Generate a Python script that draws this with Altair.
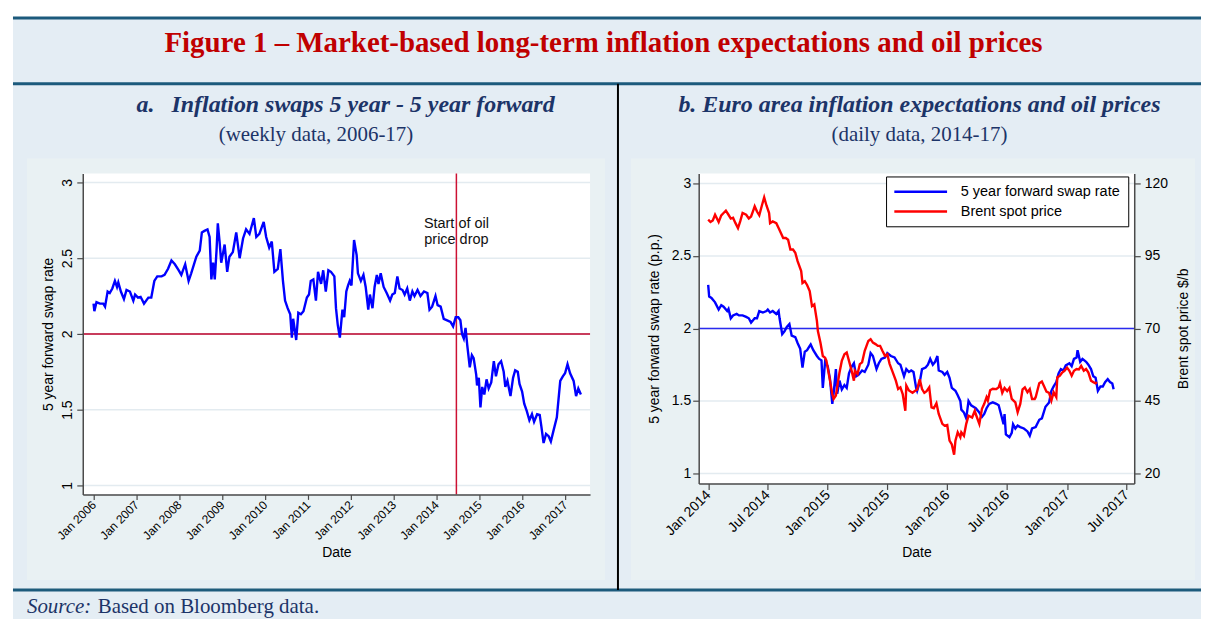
import altair as alt
import pandas as pd
import datetime as dt

# ---------------- data ----------------
series_names = ["5 year forward swap rate", "Brent spot price"]

# panel a: weekly 5y5y inflation swap, [decimal year, rate]
swap_weekly = [
    [2006.00, 2.20], [2006.02, 2.15], [2006.07, 2.21], [2006.15, 2.20], [2006.23, 2.20], [2006.27, 2.18],
    [2006.33, 2.28], [2006.38, 2.27], [2006.44, 2.30], [2006.50, 2.35], [2006.55, 2.31], [2006.58, 2.34],
    [2006.64, 2.28], [2006.71, 2.23], [2006.77, 2.29], [2006.85, 2.28], [2006.93, 2.22], [2006.97, 2.26],
    [2007.04, 2.24], [2007.10, 2.245], [2007.18, 2.20], [2007.28, 2.24], [2007.35, 2.24], [2007.42, 2.35],
    [2007.49, 2.38], [2007.59, 2.38], [2007.66, 2.39], [2007.74, 2.43], [2007.82, 2.485], [2007.90, 2.46],
    [2007.99, 2.42], [2008.05, 2.39], [2008.09, 2.42], [2008.14, 2.46], [2008.22, 2.35], [2008.28, 2.40],
    [2008.40, 2.51], [2008.48, 2.55], [2008.53, 2.67], [2008.59, 2.68], [2008.66, 2.69], [2008.71, 2.64],
    [2008.75, 2.36], [2008.79, 2.47], [2008.83, 2.36], [2008.87, 2.55], [2008.90, 2.73], [2008.94, 2.61],
    [2008.98, 2.47], [2009.06, 2.59], [2009.12, 2.41], [2009.17, 2.51], [2009.25, 2.54], [2009.33, 2.67],
    [2009.41, 2.50], [2009.49, 2.63], [2009.56, 2.69], [2009.64, 2.66], [2009.74, 2.765], [2009.80, 2.64],
    [2009.87, 2.66], [2009.97, 2.74], [2010.03, 2.64], [2010.10, 2.57], [2010.16, 2.61], [2010.22, 2.41],
    [2010.30, 2.43], [2010.36, 2.56], [2010.42, 2.35], [2010.47, 2.22], [2010.53, 2.17], [2010.59, 2.13],
    [2010.63, 1.976], [2010.66, 2.10], [2010.73, 1.96], [2010.78, 2.14], [2010.84, 2.13], [2010.90, 2.15],
    [2010.98, 2.24], [2011.03, 2.26], [2011.07, 2.35], [2011.13, 2.36], [2011.19, 2.22], [2011.24, 2.41],
    [2011.31, 2.33], [2011.36, 2.42], [2011.42, 2.28], [2011.48, 2.42], [2011.54, 2.41], [2011.62, 2.38],
    [2011.66, 2.17], [2011.70, 2.06], [2011.75, 1.976], [2011.81, 2.16], [2011.85, 2.11], [2011.90, 2.28],
    [2011.94, 2.32], [2011.98, 2.35], [2012.02, 2.32], [2012.08, 2.62], [2012.14, 2.52], [2012.17, 2.40],
    [2012.24, 2.35], [2012.30, 2.39], [2012.35, 2.31], [2012.41, 2.16], [2012.45, 2.26], [2012.51, 2.17],
    [2012.56, 2.31], [2012.61, 2.39], [2012.65, 2.33], [2012.70, 2.40], [2012.77, 2.31], [2012.84, 2.27],
    [2012.92, 2.22], [2012.97, 2.26], [2013.03, 2.27], [2013.09, 2.38], [2013.14, 2.30], [2013.21, 2.29],
    [2013.26, 2.26], [2013.32, 2.30], [2013.38, 2.22], [2013.44, 2.28], [2013.49, 2.25], [2013.56, 2.29],
    [2013.63, 2.25], [2013.71, 2.28], [2013.79, 2.27], [2013.84, 2.16], [2013.90, 2.18], [2013.98, 2.25],
    [2014.03, 2.19], [2014.10, 2.18], [2014.17, 2.10], [2014.25, 2.09], [2014.33, 2.08], [2014.39, 2.05],
    [2014.45, 2.11], [2014.51, 2.11], [2014.56, 2.09], [2014.60, 2.00], [2014.64, 1.97], [2014.68, 2.04],
    [2014.72, 1.93], [2014.78, 1.78], [2014.83, 1.86], [2014.87, 1.84], [2014.93, 1.73], [2014.95, 1.66],
    [2014.99, 1.71], [2015.03, 1.515], [2015.07, 1.65], [2015.12, 1.60], [2015.17, 1.70], [2015.22, 1.64],
    [2015.28, 1.68], [2015.34, 1.82], [2015.39, 1.72], [2015.45, 1.80], [2015.51, 1.82], [2015.57, 1.75],
    [2015.61, 1.65], [2015.66, 1.69], [2015.73, 1.59], [2015.79, 1.71], [2015.84, 1.76], [2015.90, 1.75],
    [2015.94, 1.67], [2016.00, 1.62], [2016.05, 1.54], [2016.11, 1.49], [2016.17, 1.43], [2016.23, 1.47],
    [2016.28, 1.42], [2016.35, 1.47], [2016.41, 1.465], [2016.45, 1.39], [2016.50, 1.28], [2016.56, 1.34],
    [2016.62, 1.325], [2016.67, 1.29], [2016.73, 1.36], [2016.81, 1.45], [2016.89, 1.69], [2016.95, 1.72],
    [2017.00, 1.74], [2017.06, 1.80], [2017.12, 1.74], [2017.20, 1.69], [2017.26, 1.59], [2017.31, 1.64],
    [2017.37, 1.60],
]

# panel b: daily 5y5y swap (left axis), [decimal year, rate]
swap_daily = [
    [2014.00, 2.30], [2014.01, 2.22], [2014.03, 2.21], [2014.06, 2.18], [2014.09, 2.13], [2014.11, 2.16],
    [2014.13, 2.15], [2014.16, 2.12], [2014.17, 2.135], [2014.19, 2.07], [2014.21, 2.09], [2014.24, 2.10],
    [2014.26, 2.09], [2014.29, 2.09], [2014.32, 2.08], [2014.34, 2.07], [2014.36, 2.04], [2014.39, 2.07],
    [2014.41, 2.07], [2014.43, 2.12], [2014.46, 2.11], [2014.49, 2.12], [2014.50, 2.13], [2014.52, 2.11],
    [2014.54, 2.12], [2014.57, 2.10], [2014.59, 2.12], [2014.60, 2.07], [2014.62, 1.96], [2014.64, 1.98],
    [2014.66, 2.01], [2014.68, 2.03], [2014.70, 1.95], [2014.73, 1.94], [2014.75, 1.90], [2014.77, 1.86],
    [2014.79, 1.73], [2014.81, 1.84], [2014.83, 1.85], [2014.85, 1.88], [2014.86, 1.89], [2014.88, 1.85],
    [2014.91, 1.81], [2014.93, 1.79], [2014.95, 1.78], [2014.96, 1.59], [2014.98, 1.77], [2015.00, 1.74],
    [2015.02, 1.65], [2015.04, 1.48], [2015.05, 1.55], [2015.07, 1.72], [2015.08, 1.55], [2015.10, 1.64],
    [2015.12, 1.58], [2015.14, 1.61], [2015.16, 1.59], [2015.18, 1.69], [2015.20, 1.735], [2015.22, 1.76],
    [2015.24, 1.67], [2015.26, 1.68], [2015.29, 1.71], [2015.31, 1.70], [2015.34, 1.75], [2015.36, 1.83],
    [2015.38, 1.81], [2015.41, 1.72], [2015.43, 1.76], [2015.45, 1.79], [2015.48, 1.80], [2015.50, 1.83],
    [2015.53, 1.81], [2015.56, 1.80], [2015.59, 1.76], [2015.61, 1.75], [2015.64, 1.67], [2015.66, 1.72],
    [2015.68, 1.70], [2015.70, 1.71], [2015.72, 1.70], [2015.74, 1.59], [2015.75, 1.57], [2015.77, 1.63],
    [2015.79, 1.72], [2015.82, 1.73], [2015.84, 1.75], [2015.86, 1.79], [2015.88, 1.75], [2015.90, 1.77],
    [2015.92, 1.81], [2015.93, 1.71], [2015.96, 1.70], [2015.98, 1.68], [2016.00, 1.70], [2016.02, 1.66],
    [2016.04, 1.59], [2016.07, 1.57], [2016.09, 1.54], [2016.11, 1.50], [2016.12, 1.44], [2016.14, 1.42],
    [2016.16, 1.38], [2016.18, 1.50], [2016.20, 1.47], [2016.22, 1.46], [2016.24, 1.45], [2016.27, 1.42],
    [2016.29, 1.39], [2016.31, 1.41], [2016.33, 1.45], [2016.35, 1.48], [2016.38, 1.49], [2016.41, 1.48],
    [2016.43, 1.47], [2016.45, 1.41], [2016.47, 1.34], [2016.48, 1.41], [2016.49, 1.27], [2016.52, 1.25],
    [2016.54, 1.28], [2016.55, 1.34], [2016.57, 1.31], [2016.59, 1.33], [2016.61, 1.32], [2016.64, 1.31],
    [2016.67, 1.29], [2016.69, 1.26], [2016.71, 1.31], [2016.74, 1.32], [2016.77, 1.37], [2016.79, 1.38],
    [2016.82, 1.46], [2016.85, 1.49], [2016.87, 1.57], [2016.89, 1.60], [2016.91, 1.63], [2016.93, 1.69],
    [2016.95, 1.72], [2016.97, 1.71], [2016.99, 1.745], [2017.02, 1.76], [2017.04, 1.74], [2017.06, 1.79],
    [2017.08, 1.80], [2017.09, 1.85], [2017.11, 1.77], [2017.13, 1.79], [2017.16, 1.77], [2017.18, 1.75],
    [2017.20, 1.72], [2017.22, 1.67], [2017.24, 1.66], [2017.26, 1.57], [2017.28, 1.60], [2017.30, 1.60],
    [2017.32, 1.63], [2017.34, 1.65], [2017.36, 1.63], [2017.38, 1.62], [2017.39, 1.58],
]

# panel b: Brent spot price (right axis), [decimal year, $/b]
brent_daily = [
    [2014.00, 107.5], [2014.02, 106.7], [2014.04, 107.2], [2014.06, 109.2], [2014.09, 106.7], [2014.11, 109.0],
    [2014.13, 109.8], [2014.15, 110.6], [2014.17, 109.2], [2014.19, 107.9], [2014.21, 108.2], [2014.23, 106.4],
    [2014.25, 104.6], [2014.27, 107.0], [2014.29, 109.8], [2014.32, 109.2], [2014.34, 107.9], [2014.36, 108.6],
    [2014.38, 110.8], [2014.39, 112.1], [2014.41, 110.3], [2014.43, 109.0], [2014.45, 112.4], [2014.47, 115.2],
    [2014.49, 112.4], [2014.51, 109.8], [2014.52, 106.3], [2014.54, 106.9], [2014.57, 106.3], [2014.59, 104.6],
    [2014.61, 102.9], [2014.63, 101.2], [2014.65, 101.2], [2014.67, 100.6], [2014.69, 97.2], [2014.71, 97.2],
    [2014.73, 96.1], [2014.75, 93.2], [2014.78, 89.8], [2014.79, 85.7], [2014.81, 86.3], [2014.83, 85.0],
    [2014.85, 82.9], [2014.87, 77.7], [2014.89, 78.3], [2014.91, 72.6], [2014.92, 69.1], [2014.94, 65.0],
    [2014.96, 60.5], [2014.98, 59.9], [2014.99, 58.9], [2015.02, 52.0], [2015.04, 47.4], [2015.05, 45.7],
    [2015.07, 46.9], [2015.09, 52.0], [2015.10, 54.8], [2015.12, 58.8], [2015.14, 61.1], [2015.16, 61.7],
    [2015.18, 58.8], [2015.20, 55.4], [2015.22, 52.0], [2015.23, 55.4], [2015.25, 54.3], [2015.27, 57.7],
    [2015.29, 58.3], [2015.31, 62.3], [2015.34, 65.7], [2015.36, 66.3], [2015.38, 65.1], [2015.40, 64.6],
    [2015.42, 64.0], [2015.44, 64.0], [2015.46, 62.3], [2015.48, 60.5], [2015.50, 61.1], [2015.52, 57.8],
    [2015.54, 55.4], [2015.57, 52.0], [2015.59, 49.1], [2015.61, 49.7], [2015.63, 47.4], [2015.65, 41.6],
    [2015.66, 50.3], [2015.68, 48.6], [2015.71, 47.8], [2015.73, 48.4], [2015.75, 48.9], [2015.77, 52.5],
    [2015.79, 49.1], [2015.81, 47.8], [2015.83, 48.4], [2015.85, 49.7], [2015.87, 42.8], [2015.89, 42.5],
    [2015.91, 44.2], [2015.93, 40.5], [2015.96, 37.1], [2015.98, 36.5], [2016.00, 36.7], [2016.02, 31.3],
    [2016.04, 30.0], [2016.06, 26.5], [2016.07, 31.3], [2016.09, 34.2], [2016.11, 32.5], [2016.12, 34.2],
    [2016.14, 33.0], [2016.16, 37.1], [2016.18, 39.9], [2016.21, 39.3], [2016.23, 41.6], [2016.24, 40.5],
    [2016.27, 37.1], [2016.29, 42.3], [2016.31, 44.0], [2016.33, 46.3], [2016.34, 45.1], [2016.36, 48.7],
    [2016.38, 49.2], [2016.41, 49.1], [2016.43, 49.7], [2016.44, 51.1], [2016.46, 47.8], [2016.48, 49.5],
    [2016.50, 48.4], [2016.52, 49.5], [2016.54, 45.7], [2016.57, 44.5], [2016.59, 41.1], [2016.61, 44.0],
    [2016.63, 49.0], [2016.65, 49.7], [2016.67, 48.0], [2016.69, 49.1], [2016.71, 45.7], [2016.73, 45.7],
    [2016.74, 46.3], [2016.77, 51.1], [2016.79, 51.7], [2016.81, 50.0], [2016.83, 48.2], [2016.85, 47.8],
    [2016.87, 45.1], [2016.89, 48.0], [2016.91, 46.3], [2016.92, 53.1], [2016.94, 53.7], [2016.96, 54.8],
    [2016.98, 55.4], [2017.00, 56.5], [2017.02, 55.4], [2017.04, 53.7], [2017.06, 55.4], [2017.08, 56.0],
    [2017.10, 55.9], [2017.12, 57.1], [2017.14, 55.4], [2017.16, 56.0], [2017.18, 54.8], [2017.20, 52.0],
    [2017.22, 51.5], [2017.24, 51.1], [2017.25, 51.5],
]

left_axis_ticks = [1, 1.5, 2, 2.5, 3]
brent_axis_ticks = [20, 45, 70, 95, 120]
panel_a_years = list(range(2006, 2018))
panel_b_ticks = [(2014, 1), (2014, 7), (2015, 1), (2015, 7), (2016, 1), (2016, 7), (2017, 1), (2017, 7)]
reference_level = [2.0]
oil_drop_date = ["2014-06-20"]
oil_drop_label_level = [2.70]

# ---------------- helpers ----------------
SANS = "Liberation Sans"
SERIF = "Liberation Serif"
NAVY = "#1c3468"
FRAME = "#1c5a7c"
BG = "#e4edf4"
REGION = "#e9f1f3"
AXC = "#4a4a4a"


def to_date(y):
    yr = int(y)
    start = dt.datetime(yr, 1, 1)
    nxt = dt.datetime(yr + 1, 1, 1)
    return (start + (nxt - start) * (y - yr)).strftime("%Y-%m-%d")


def frame(pairs, name):
    return pd.DataFrame({
        "date": [to_date(p[0]) for p in pairs],
        "value": [p[1] for p in pairs],
        "series": [name] * len(pairs),
    })


one = pd.DataFrame({"k": [0]})


def box(x, x2, y, y2, color):
    return alt.Chart(one).mark_rect(color=color).encode(
        x=alt.value(x), x2=alt.value(x2), y=alt.value(y), y2=alt.value(y2))


def hline(x, x2, y, color, w):
    return alt.Chart(one).mark_rule(color=color, strokeWidth=w).encode(
        x=alt.value(x), x2=alt.value(x2), y=alt.value(y))


def vline(x, y, y2, color, w):
    return alt.Chart(one).mark_rule(color=color, strokeWidth=w).encode(
        x=alt.value(x), y=alt.value(y), y2=alt.value(y2))


def label(text, x, y, size, color, font=SERIF, weight="normal", style="normal", align="center"):
    return alt.Chart(one).mark_text(
        text=text, font=font, fontSize=size, fontWeight=weight, fontStyle=style,
        color=color, align=align, baseline="alphabetic").encode(x=alt.value(x), y=alt.value(y))


common_axis = dict(zindex=1, grid=False, labelFont=SANS, titleFont=SANS,
                   labelColor="#000000", titleColor="#000000", titleFontWeight="normal",
                   domainColor=AXC, domainWidth=1.5, tickColor=AXC, tickWidth=1.2,
                   labelOverlap=False, labelFlush=False)

# ---------------- panel a ----------------
LW, LH = 509, 322
xL = alt.Scale(domain=[alt.DateTime(year=2005, month=10, date=1),
                       alt.DateTime(year=2017, month=8, date=2)], nice=False)
yL = alt.Scale(domain=[0.9408, 3.0592], nice=False, zero=False)

left_df = frame(swap_weekly, series_names[0])

x_axis_a = alt.Axis(
    values=[alt.DateTime(year=y, month=1, date=1) for y in panel_a_years],
    format="%b %Y", labelAngle=315, labelAlign="right", labelBaseline="middle",
    labelFontSize=12, tickSize=5, labelPadding=3,
    title="Date", titleFontSize=14, titleX=LW / 2, titleY=58,
    titleAlign="center", titleBaseline="middle", **common_axis)
y_axis_a = alt.Axis(
    values=left_axis_ticks, format="~g", labelAngle=270, labelAlign="center",
    labelBaseline="alphabetic", labelFontSize=14, tickSize=6, labelPadding=5,
    title="5 year forward swap rate", titleFontSize=14, titleAngle=270,
    titleX=-34, titleY=LH / 2, titleAlign="center", titleBaseline="middle", **common_axis)

oil_df = pd.DataFrame({"date": oil_drop_date, "level": oil_drop_label_level})

left_layers = [
    box(-70, 1122, -157, 447, BG),
    hline(-70, 1122, -156, FRAME, 3),
    hline(-70, 1122, -90, FRAME, 3),
    hline(-70, 1122, 418, FRAME, 3),
    vline(537, -90, 418, "#000000", 2),
    box(-56, 524, -15, 408, REGION),
    label("Figure 1 \u2013 Market-based long-term inflation expectations and oil prices",
          522.5, -122, 29, "#c00000", weight="bold"),
    label("a.", 54, -62, 24, NAVY, weight="bold", style="italic", align="left"),
    label("Inflation swaps 5 year - 5 year forward", 89, -62, 24, NAVY,
          weight="bold", style="italic", align="left"),
    label("(weekly data, 2006-17)", 234, -33, 21, NAVY),
    label("Source:", -56, 441, 21, NAVY, style="italic", align="left"),
    label("Based on Bloomberg data.", 15, 441, 21, NAVY, align="left"),
    box(0, LW, 0, LH, "#ffffff"),
    alt.Chart(pd.DataFrame({"g": left_axis_ticks})).mark_rule(color="#e3ebf0", strokeWidth=1.5)
       .encode(y=alt.Y("g:Q", scale=yL, axis=y_axis_a)),
    alt.Chart(pd.DataFrame({"level": reference_level})).mark_rule(color="#c83c5c", strokeWidth=2)
       .encode(y=alt.Y("level:Q", scale=yL, axis=y_axis_a)),
    alt.Chart(oil_df).mark_rule(color="#cc1133", strokeWidth=1.5)
       .encode(x=alt.X("date:T", scale=xL, axis=x_axis_a)),
    alt.Chart(oil_df).mark_text(text=["Start of oil", "price drop"], lineHeight=16, font=SANS,
                                fontSize=14.5, color="#111111", align="center", baseline="alphabetic")
       .encode(x=alt.X("date:T", scale=xL, axis=x_axis_a), y=alt.Y("level:Q", scale=yL, axis=y_axis_a)),
    alt.Chart(left_df).mark_line(color="#0000ff", strokeWidth=2.4)
       .encode(x=alt.X("date:T", scale=xL, axis=x_axis_a),
               y=alt.Y("value:Q", scale=yL, axis=y_axis_a)),
]
left = alt.layer(*left_layers).properties(width=LW, height=LH)

# ---------------- panel b ----------------
RW, RH = 437, 311
xR = alt.Scale(domain=[alt.DateTime(year=2013, month=12, date=3),
                       alt.DateTime(year=2017, month=7, date=25)], nice=False)
yR = alt.Scale(domain=[0.9313, 3.0687], nice=False, zero=False)
yB = alt.Scale(domain=[16.565, 123.435], nice=False, zero=False)

swap_df = frame(swap_daily, series_names[0])
brent_df = frame(brent_daily, series_names[1])

legend = alt.Legend(
    title=None, orient="none", legendX=188, legendY=3, direction="vertical",
    symbolType="M-5,0H5", symbolSize=112, symbolStrokeWidth=2.5, symbolOffset=19.5,
    labelOffset=33, labelFont=SANS, labelFontSize=14.5, labelColor="#000000", labelLimit=400,
    padding=8, rowPadding=5, strokeColor="#000000", fillColor="#ffffff", cornerRadius=0)
color = alt.Color("series:N", scale=alt.Scale(domain=series_names, range=["#0000ff", "#ff0000"]),
                  legend=legend)

x_axis_b = alt.Axis(
    values=[alt.DateTime(year=y, month=m, date=1) for (y, m) in panel_b_ticks],
    format="%b %Y", labelAngle=315, labelAlign="right", labelBaseline="middle",
    labelFontSize=14, tickSize=6, labelPadding=3,
    title="Date", titleFontSize=14, titleX=RW / 2, titleY=69,
    titleAlign="center", titleBaseline="middle", **common_axis)
y_axis_b = alt.Axis(
    values=left_axis_ticks, format="~g", labelFontSize=14, tickSize=6, labelPadding=2,
    title="5 year forward swap rate (p.p.)", titleFontSize=14, titleAngle=270,
    titleX=-44, titleY=RH / 2, titleAlign="center", titleBaseline="middle", **common_axis)
y_axis_brent = alt.Axis(
    orient="right", values=brent_axis_ticks, labelFontSize=14, tickSize=6, labelPadding=4,
    title="Brent spot price $/b", titleFontSize=14, titleAngle=270,
    titleX=49, titleY=RH / 2, titleAlign="center", titleBaseline="middle", **common_axis)

swap_group = alt.layer(
    alt.Chart(pd.DataFrame({"g": left_axis_ticks})).mark_rule(color="#e3ebf0", strokeWidth=1.5)
       .encode(y=alt.Y("g:Q", scale=yR, axis=y_axis_b)),
    alt.Chart(pd.DataFrame({"level": reference_level})).mark_rule(color="#2a2aee", strokeWidth=1.5)
       .encode(y=alt.Y("level:Q", scale=yR, axis=y_axis_b)),
    alt.Chart(swap_df).mark_line(strokeWidth=2.4)
       .encode(x=alt.X("date:T", scale=xR, axis=x_axis_b),
               y=alt.Y("value:Q", scale=yR, axis=y_axis_b),
               color=color),
)
brent_line = alt.Chart(brent_df).mark_line(strokeWidth=2.4).encode(
    x=alt.X("date:T", scale=xR, axis=x_axis_b),
    y=alt.Y("value:Q", scale=yB, axis=y_axis_brent),
    color=color)

right = alt.layer(
    box(-68, 498, -15, 408, REGION),
    label("b. Euro area inflation expectations and oil prices", 221.5, -62, 24, NAVY,
          weight="bold", style="italic"),
    label("(daily data, 2014-17)", 221.5, -33, 21, NAVY),
    box(0, RW, 0, RH, "#ffffff"),
    swap_group,
    brent_line,
).resolve_scale(y="independent").properties(width=RW, height=RH)

chart = (
    alt.hconcat(left, right, spacing=109, bounds="flush")
    .resolve_scale(color="independent")
    .properties(padding={"left": 3, "top": 7, "right": 0, "bottom": 0}, background="#ffffff")
    .configure_view(strokeWidth=0)
    .configure_axis(zindex=1)
)

chart.save("out.html", embed_options={"renderer": "svg", "actions": False})
